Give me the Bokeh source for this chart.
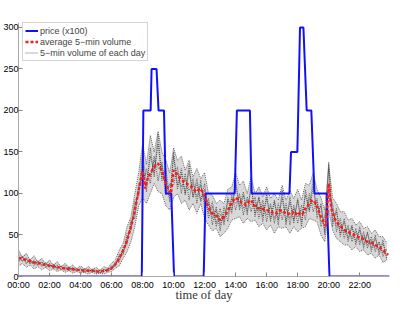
import numpy as np
from bokeh.plotting import figure
from bokeh.models import FixedTicker, Legend, LegendItem, Range1d
from bokeh.embed import file_html
from bokeh.resources import INLINE

# ---------------- data ----------------
tick_hours = [0, 2, 4, 6, 8, 10, 12, 14, 16, 18, 20, 22]
tick_labels = ["00:00", "02:00", "04:00", "06:00", "08:00", "10:00",
               "12:00", "14:00", "16:00", "18:00", "20:00", "22:00"]
y_ticks = [0, 50, 100, 150, 200, 250, 300]

# price (x100), vertices of the step curve (hour of day, value)
price_hours = [0, 7.95, 8.05, 8.52, 8.58, 8.9, 9.03, 9.38, 9.5, 9.85, 10.03,
               11.94, 12.06, 13.94, 14.08, 14.92, 15.03, 17.47, 17.57, 17.98,
               18.15, 18.37, 18.58, 18.88, 19.08, 19.87, 20.05, 23.92]
price_vals = [0, 0, 200, 200, 250, 250, 200, 200, 100, 100, 0,
              0, 100, 100, 200, 200, 100, 100, 150, 150,
              300, 300, 200, 200, 100, 100, 0, 0]

# average 5-min volume, one value every 10 minutes
avg_volume = [
    22, 22, 21, 20, 19, 18,
    17, 16, 16, 15, 14, 14,
    13, 12, 12, 11, 11, 10,
    10, 9, 9, 9, 8, 8,
    8, 7, 7, 7, 6, 7,
    6, 6, 6, 7, 7, 8,
    10, 13, 17, 22, 28, 35,
    44, 54, 66, 80, 96, 112,
    127, 106, 118, 124, 130, 134,
    136, 130, 122, 112, 104, 100,
    128, 124, 120, 117, 114, 112,
    110, 108, 104, 102, 106, 103,
    97, 88, 80, 76, 74, 72,
    68, 70, 74, 80, 86, 91,
    95, 92, 90, 88, 86, 90,
    92, 86, 84, 82, 83, 80,
    80, 79, 77, 78, 76, 79,
    80, 77, 75, 76, 78, 74,
    78, 74, 76, 82, 86, 90,
    92, 88, 80, 72, 66, 61,
    112, 82, 72, 66, 62, 59,
    56, 54, 53, 51, 50, 48,
    47, 46, 44, 42, 41, 40,
    38, 36, 34, 32, 29, 26,
]

# 5-min volume of individual days, one value every 15 minutes
day1 = [26, 18, 23, 15, 20, 13, 18, 11, 16, 9, 14, 8, 13, 7, 11, 6,
        10, 5, 9, 6, 8, 4, 9, 7, 13, 12, 27, 26, 52, 55, 92, 96,
        150, 110, 145, 125, 160, 118, 130, 95, 145, 110, 130, 100, 128, 96, 118, 92,
        112, 76, 90, 64, 82, 62, 95, 80, 112, 84, 102, 78, 108, 76, 95, 72,
        94, 70, 90, 68, 95, 66, 90, 68, 92, 66, 98, 78, 108, 76, 85, 54,
        130, 66, 78, 52, 66, 46, 60, 42, 56, 38, 52, 34, 46, 30, 40, 22]
day2 = [17, 25, 15, 21, 13, 19, 12, 17, 10, 15, 8, 13, 7, 12, 6, 10,
        5, 10, 5, 9, 4, 8, 5, 10, 8, 18, 17, 36, 38, 68, 70, 112,
        108, 130, 112, 145, 115, 138, 98, 112, 110, 132, 100, 124, 92, 118, 88, 116,
        82, 94, 62, 84, 55, 84, 66, 98, 80, 100, 74, 96, 78, 96, 70, 92,
        66, 88, 64, 88, 68, 88, 62, 86, 64, 86, 68, 100, 78, 94, 60, 74,
        96, 88, 54, 70, 46, 62, 42, 58, 38, 54, 34, 48, 30, 42, 24, 34]
day3 = [20, 23, 17, 20, 15, 18, 14, 16, 12, 14, 10, 12, 9, 11, 8, 9,
        7, 9, 6, 8, 6, 7, 6, 9, 11, 14, 24, 29, 46, 58, 85, 100,
        135, 102, 155, 120, 172, 115, 120, 90, 150, 105, 125, 98, 135, 95, 112, 90,
        105, 70, 85, 60, 75, 66, 92, 76, 118, 80, 98, 74, 112, 72, 96, 66,
        100, 66, 92, 62, 104, 62, 96, 64, 94, 60, 104, 80, 118, 70, 88, 50,
        138, 60, 82, 48, 70, 42, 62, 38, 60, 34, 54, 30, 50, 26, 44, 20]
day4 = [24, 19, 21, 16, 18, 14, 17, 12, 14, 11, 13, 9, 11, 8, 10, 7,
        9, 6, 8, 6, 7, 5, 8, 7, 9, 16, 20, 33, 42, 63, 76, 108,
        120, 124, 120, 140, 130, 134, 106, 108, 120, 126, 108, 118, 104, 112, 96, 110,
        90, 90, 70, 80, 62, 78, 74, 94, 88, 96, 82, 92, 86, 90, 78, 86,
        74, 84, 70, 82, 76, 82, 70, 82, 72, 80, 76, 94, 86, 90, 66, 68,
        105, 82, 60, 64, 52, 58, 46, 54, 42, 50, 38, 44, 34, 40, 28, 32]
day5 = [32, 22, 28, 20, 25, 17, 22, 14, 20, 13, 18, 11, 16, 10, 14, 9,
        13, 8, 12, 8, 11, 7, 12, 10, 16, 20, 32, 40, 60, 72, 100, 125,
        160, 135, 170, 150, 175, 150, 140, 125, 155, 140, 145, 128, 140, 120, 130, 118,
        125, 100, 98, 88, 92, 88, 105, 108, 125, 110, 115, 100, 120, 100, 108, 96,
        108, 94, 100, 92, 110, 92, 104, 94, 105, 92, 112, 110, 125, 105, 95, 80,
        135, 95, 88, 78, 78, 68, 70, 62, 66, 58, 60, 52, 56, 48, 48, 40]
day6 = [12, 16, 11, 14, 9, 12, 8, 11, 7, 9, 6, 8, 5, 7, 4, 6,
        4, 5, 3, 5, 3, 4, 3, 5, 6, 10, 13, 22, 30, 42, 60, 85,
        95, 88, 100, 112, 102, 100, 85, 80, 95, 100, 88, 92, 80, 88, 76, 88,
        70, 62, 55, 58, 48, 52, 58, 68, 70, 72, 64, 70, 66, 68, 60, 64,
        56, 62, 52, 60, 58, 60, 52, 60, 54, 58, 60, 70, 68, 66, 50, 42,
        80, 56, 46, 42, 38, 38, 32, 36, 30, 32, 26, 28, 22, 26, 17, 20]

days = [day1, day2, day3, day4, day5, day6]
avg_t = np.arange(len(avg_volume)) * 10 / 60
day_t = np.arange(len(day1)) * 15 / 60
days_arr = np.array(days, dtype=float)
band_lo = days_arr.min(axis=0)
band_hi = days_arr.max(axis=0)

# ---------------- figure ----------------
p = figure(width=419, height=311, x_range=Range1d(0, 23.92), y_range=Range1d(0, 306),
           output_backend="svg", toolbar_location=None,
           min_border_left=17, min_border_right=30, min_border_top=22, min_border_bottom=35)
p.outline_line_color = None
p.xgrid.visible = False
p.ygrid.visible = False
p.background_fill_color = "white"

p.varea(x=day_t, y1=band_lo, y2=band_hi, fill_color="#909090", fill_alpha=0.35)
day_renderers = []
for d in days:
    r = p.line(day_t, d, line_color="#303030", line_alpha=0.7, line_width=1, line_dash="1 1")
    day_renderers.append(r)

r_price = p.line(price_hours, price_vals, line_color="#1010ff", line_width=2)
r_avg = p.line(avg_t, avg_volume, line_color="#ff1a1a", line_width=2.4, line_dash="3 2")

for ax in (p.xaxis[0], p.yaxis[0]):
    ax.axis_line_color = "#aaaaaa"
    ax.major_tick_line_color = "#888888"
    ax.major_tick_in = 4
    ax.major_tick_out = 0
    ax.minor_tick_line_color = None
    ax.major_label_text_font = "Liberation Sans"
    ax.major_label_text_font_size = "9px"
    ax.major_label_text_color = "black"

p.xaxis.ticker = FixedTicker(ticks=tick_hours)
p.xaxis.major_label_overrides = {h: lab for h, lab in zip(tick_hours, tick_labels)}
p.xaxis.major_label_standoff = 3
p.xaxis.axis_label = "time of day"
p.xaxis.axis_label_text_font = "Liberation Serif"
p.xaxis.axis_label_text_font_style = "normal"
p.xaxis.axis_label_text_font_size = "12.5px"
p.xaxis.axis_label_text_color = "#333333"
p.xaxis.axis_label_standoff = -5

p.yaxis.ticker = FixedTicker(ticks=y_ticks)
p.yaxis.major_label_standoff = 0

legend = Legend(items=[
    LegendItem(label="price (x100)", renderers=[r_price]),
    LegendItem(label="average 5\u2212min volume", renderers=[r_avg]),
    LegendItem(label="5\u2212min volume of each day", renderers=[day_renderers[0]]),
], location=(4, 215))
legend.label_text_font = "Liberation Sans"
legend.label_text_font_size = "9px"
legend.label_height = 11
legend.glyph_height = 11
legend.glyph_width = 13
legend.label_standoff = 2
legend.spacing = 0
legend.padding = 2
legend.margin = 0
legend.border_line_color = "#aaaaaa"
legend.border_line_width = 1
legend.background_fill_alpha = 1
p.add_layout(legend)

open("out.html", "w").write(file_html(p, INLINE))
